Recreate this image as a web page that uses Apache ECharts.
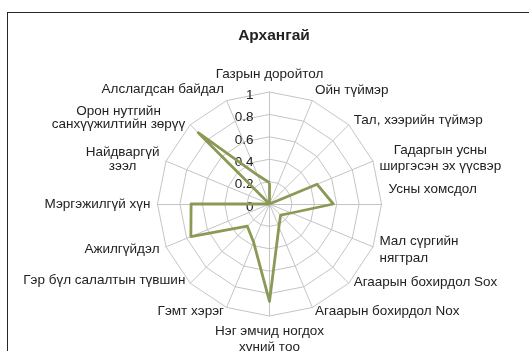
<!DOCTYPE html>
<html>
<head>
<meta charset="utf-8">
<script src="https://cdn.jsdelivr.net/npm/echarts@6/dist/echarts.min.js"></script>
<style>
  html, body { margin: 0; padding: 0; background: #fff; }
  #frame { position: absolute; left: 7px; top: 12px; width: 600px; height: 400px;
           border: 1.5px solid #262626; box-sizing: border-box; }
  #chart { position: absolute; left: 0; top: 0; width: 529px; height: 351px; }
</style>
</head>
<body>
<div id="frame"></div>
<div id="chart"></div>
<script>
// Risk indicators, listed clockwise from the top
const categories = [
  'Газрын доройтол',
  'Ойн түймэр',
  'Тал, хээрийн түймэр',
  'Гадаргын усны\nширгэсэн эх үүсвэр',
  'Усны хомсдол',
  'Мал сүргийн\nнягтрал',
  'Агаарын бохирдол Sox',
  'Агаарын бохирдол Nox',
  'Нэг эмчид ногдох\nхүний тоо',
  'Гэмт хэрэг',
  'Гэр бүл салалтын түвшин',
  'Ажилгүйдэл',
  'Мэргэжилгүй хүн',
  'Найдваргүй\nзээл',
  'Орон нутгийн\nсанхүүжилтийн зөрүү',
  'Алслагдсан байдал'
];
const values = [0.19, 0, 0, 0.46, 0.57, 0.21, 0.14, 0.22, 0.87, 0.37, 0.28, 0.76, 0.70, 0, 0.90, 0.28];
const scaleMin = 0;
const scaleMax = 1;
const title = 'Архангай';

// Label tweaks per indicator: vertical nudge in px (positive = up, negative = down)
// and how the lines of a wrapped name line up.
const nameLift = [5, 4, 0, 0, 15, 0, 6, 3, 0, 3, 8, 0, 0, -2, 4, 5];
const nameLineAlign = ['c', 'c', 'c', 'c', 'c', 'l', 'c', 'c', 'c', 'c', 'c', 'c', 'c', 'c', 'c', 'c'];

const font = 'Liberation Sans, Arial, sans-serif';
const textColor = '#222';
const nameSize = 13.5;
const nameLine = 16.5;

// ECharts lays radar axes out counter-clockwise, so keep the first axis on top
// and walk the rest in reverse to get a clockwise order.
const order = [0].concat(categories.map((_, i) => i).slice(1).reverse());

const indicator = order.map((i, k) => {
  const ind = { name: categories[i], min: scaleMin, max: scaleMax };
  if (k === 0) {
    ind.axisLabel = { show: true };
  }
  return ind;
});

// Build the rich styles: one per (line alignment, nudge, position-in-name)
const rich = {};
function tokenStyle(align, padTop, padBottom) {
  return {
    align: align,
    fontFamily: font,
    fontSize: nameSize,
    color: textColor,
    lineHeight: nameLine,
    padding: [padTop, 0, padBottom, 0]
  };
}
function nameFormatter(name) {
  const idx = categories.indexOf(name);
  const lift = nameLift[idx];
  const topAnchored = idx === 0;          // top label sits on its bottom edge
  const bottomAnchored = idx === 8;       // bottom label hangs from its top edge
  let padTop = 0, padBottom = 0;
  if (lift > 0) padBottom = topAnchored ? lift : lift * 2;
  if (lift < 0) padTop = bottomAnchored ? -lift : -lift * 2;
  const lines = name.split('\n');
  const alignName = nameLineAlign[idx] === 'l' ? 'left' : (lines.length > 1 ? 'center' : null);
  return lines.map((line, j) => {
    const first = j === 0;
    const last = j === lines.length - 1;
    const pt = first ? padTop : 0;
    const pb = last ? padBottom : 0;
    const key = 'n' + (alignName || 'x') + '_' + pt + '_' + pb;
    if (!rich[key]) {
      const st = tokenStyle(alignName || undefined, pt, pb);
      if (!alignName) delete st.align;
      rich[key] = st;
    }
    return '{' + key + '|' + line + '}';
  }).join('\n');
}
// Pre-compute the styles so they exist before the option is applied
categories.forEach(n => nameFormatter(n));

const chart = echarts.init(document.getElementById('chart'), null, { renderer: 'canvas' });
chart.setOption({
  animation: false,
  title: {
    text: title,
    left: 269,
    top: 23,
    textAlign: 'center',
    textStyle: { fontFamily: font, fontSize: 15.5, fontWeight: 'bold', color: textColor }
  },
  radar: {
    center: [269.5, 204],
    radius: 112,
    startAngle: 90,
    splitNumber: 5,
    shape: 'polygon',
    nameGap: 7,
    axisName: {
      color: textColor,
      fontFamily: font,
      fontSize: nameSize,
      lineHeight: nameLine,
      formatter: nameFormatter,
      rich: rich
    },
    splitLine: { lineStyle: { color: '#c4c4c4', width: 1 } },
    splitArea: { show: false },
    axisLine: { lineStyle: { color: '#c4c4c4', width: 1 } },
    axisTick: { show: false },
    axisLabel: {
      show: false,
      color: textColor,
      fontFamily: font,
      fontSize: 13.5,
      margin: 16,
      // tick values sit a touch below their rings
      verticalAlign: 'top',
      lineHeight: 6
    },
    indicator: indicator
  },
  series: [{
    type: 'radar',
    symbol: 'none',
    lineStyle: { color: '#8a9a56', width: 2.8 },
    data: [{ value: order.map(i => values[i]) }]
  }]
});
</script>
</body>
</html>
